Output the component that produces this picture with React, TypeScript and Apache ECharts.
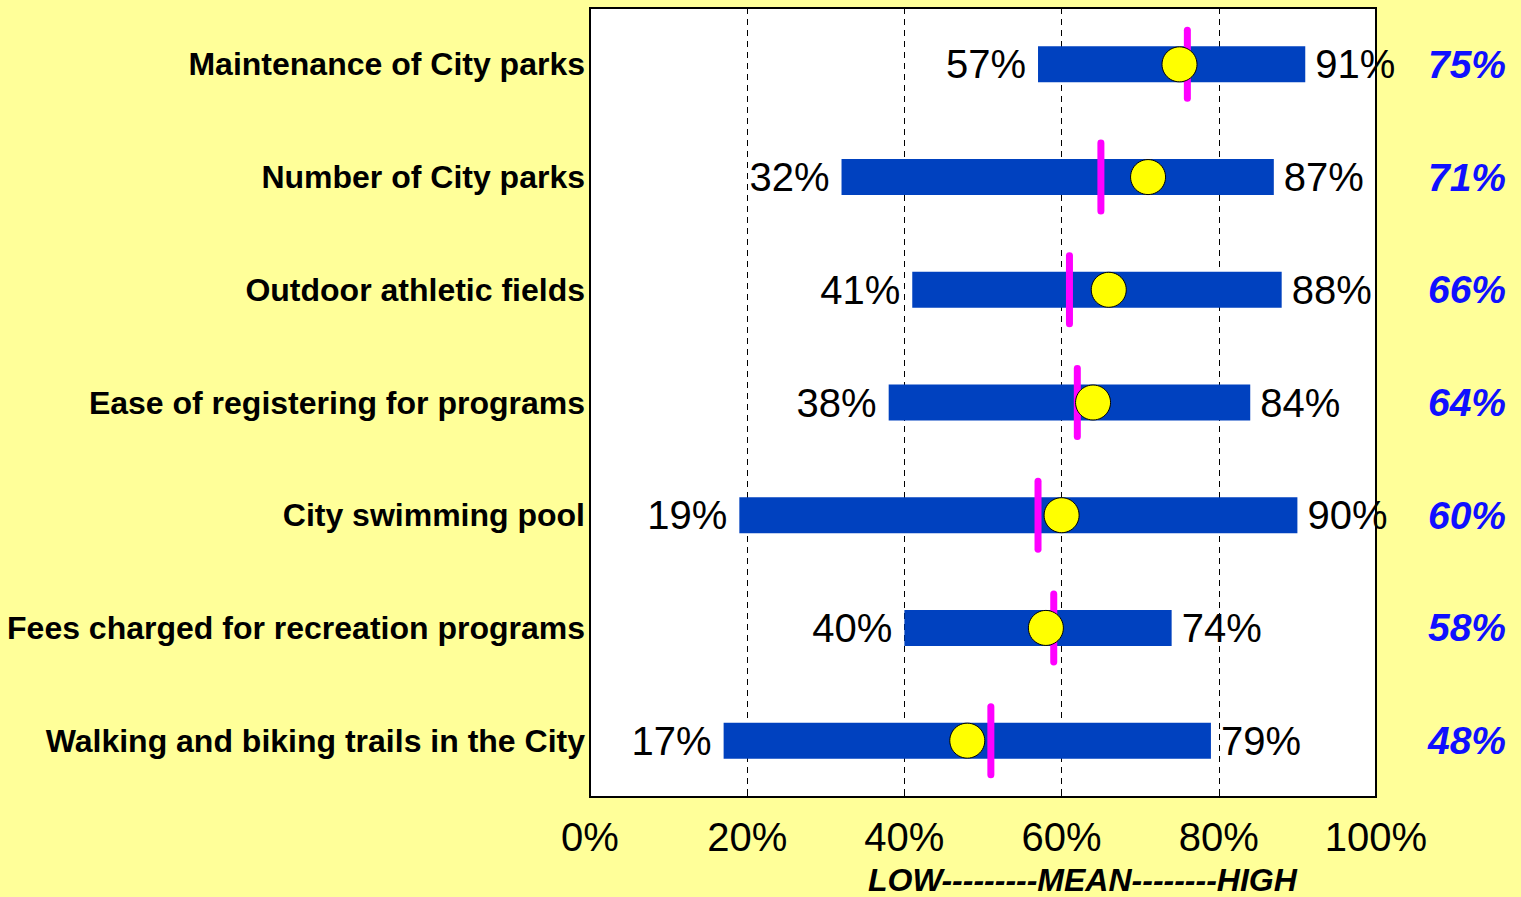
import React, { useEffect, useRef } from "react";
import * as echarts from "echarts";

const categories = [
  "Maintenance of City parks",
  "Number of City parks",
  "Outdoor athletic fields",
  "Ease of registering for programs",
  "City swimming pool",
  "Fees charged for recreation programs",
  "Walking and biking trails in the City",
];
const lows = [57, 32, 41, 38, 19, 40, 17];
const highs = [91, 87, 88, 84, 90, 74, 79];
const means = [75, 71, 66, 64, 60, 58, 48];
const medians = [76, 65, 61, 62, 57, 59, 51];
const xTicks = [0, 20, 40, 60, 80, 100];
const axisNote = "LOW---------MEAN--------HIGH";

export default function App() {
  const ref = useRef<HTMLDivElement>(null);
  useEffect(() => {
    const chart = echarts.init(ref.current!, null, { renderer: "svg" });
    const font = "'Liberation Sans', Arial, sans-serif";
    chart.setOption({
      animation: false,
      backgroundColor: "#FFFF99",
      textStyle: { fontFamily: font },
      grid: {
        left: 590,
        right: 145,
        top: 8,
        bottom: 100,
        show: true,
        backgroundColor: "#FFFFFF",
        borderColor: "#000000",
        borderWidth: 2,
        z: 0,
      },
      xAxis: {
        type: "value",
        min: xTicks[0],
        max: xTicks[xTicks.length - 1],
        interval: 20,
        axisLine: { show: false },
        axisTick: { show: true, inside: true, length: 5, lineStyle: { color: "#000" } },
        axisLabel: {
          formatter: "{value}%",
          fontSize: 40,
          color: "#000",
          margin: 20,
          fontFamily: font,
        },
        splitLine: { show: true, lineStyle: { color: "#000", type: [6, 5], width: 1 } },
      },
      yAxis: [
        {
          type: "category",
          inverse: true,
          data: categories,
          axisLine: { show: false },
          axisTick: { show: false },
          axisLabel: {
            fontSize: 32,
            fontWeight: "bold",
            color: "#000",
            margin: 5,
            fontFamily: font,
          },
        },
        {
          type: "category",
          inverse: true,
          position: "right",
          data: categories,
          axisLine: { show: false },
          axisTick: { show: false },
          axisLabel: {
            formatter: (_v: string, i: number) => means[i] + "%",
            fontSize: 39,
            fontWeight: "bold",
            fontStyle: "italic",
            color: "#1010FF",
            align: "right",
            margin: 130,
            fontFamily: font,
          },
        },
      ],
      graphic: [
        {
          type: "text",
          left: 868,
          top: 864,
          style: {
            text: axisNote,
            font: "italic bold 32px 'Liberation Sans', Arial, sans-serif",
            fill: "#000",
          },
        },
      ],
      series: [
        {
          type: "bar",
          stack: "r",
          barWidth: 36,
          data: lows,
          itemStyle: { color: "transparent" },
          label: {
            show: true,
            position: "insideRight",
            distance: 12,
            formatter: "{c}%",
            fontSize: 40,
            color: "#000",
            fontFamily: font,
          },
          z: 2,
        },
        {
          type: "bar",
          stack: "r",
          barWidth: 36,
          data: highs.map((h, i) => h - lows[i]),
          itemStyle: { color: "#0041BF" },
          label: {
            show: true,
            position: "right",
            distance: 10,
            formatter: (p: any) => highs[p.dataIndex] + "%",
            fontSize: 40,
            color: "#000",
            fontFamily: font,
          },
          z: 2,
        },
        {
          type: "scatter",
          data: medians.map((m, i) => [m, categories[i]]),
          symbol: "path://M0,3.5 A3.5,3.5 0 0 1 7,3.5 L7,71.5 A3.5,3.5 0 0 1 0,71.5 Z",
          symbolSize: [7, 75],
          symbolKeepAspect: false,
          itemStyle: { color: "#FF00FF", opacity: 1 },
          z: 3,
        },
        {
          type: "scatter",
          data: means.map((m, i) => [m, categories[i]]),
          symbol: "circle",
          symbolSize: 35,
          itemStyle: { color: "#FFFF00", borderColor: "#000", borderWidth: 1, opacity: 1 },
          z: 4,
        },
      ],
    });
    return () => chart.dispose();
  }, []);
  return (
    <div
      ref={ref}
      style={{ position: "fixed", left: 0, top: 0, width: 1521, height: 897 }}
    />
  );
}
